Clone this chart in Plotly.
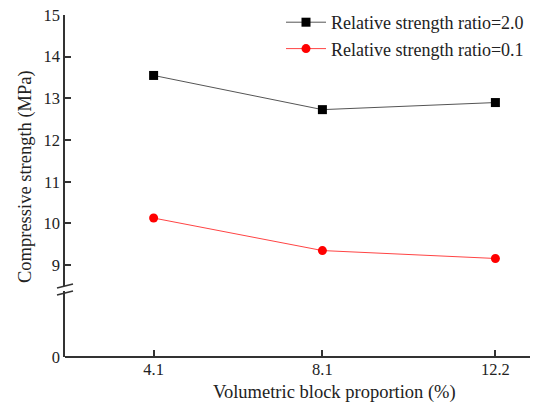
import plotly.graph_objects as go

x_vals = [4.1, 8.1, 12.2]
x_ticks = ["4.1", "8.1", "12.2"]
ratio_2_0 = [13.55, 12.73, 12.90]
ratio_0_1 = [10.13, 9.35, 9.16]
y_ticks_upper = [9, 10, 11, 12, 13, 14, 15]

W, H = 533, 403
ML, MR, MT, MB = 65, 3, 15, 46
PW, PH = W - ML - MR, H - MT - MB

def px_x(p):
    return (p - ML) / PW

def px_y(p):
    return (H - MB - p) / PH

FONT = "Liberation Serif, Times New Roman, serif"
AX = "#333333"

fig = go.Figure()
fig.add_trace(go.Scatter(
    x=x_vals, y=ratio_2_0, name="Relative strength ratio=2.0",
    mode="lines+markers", xaxis="x", yaxis="y2",
    line=dict(color="#555555", width=1),
    marker=dict(symbol="square", size=9, color="black"),
))
fig.add_trace(go.Scatter(
    x=x_vals, y=ratio_0_1, name="Relative strength ratio=0.1",
    mode="lines+markers", xaxis="x", yaxis="y2",
    line=dict(color="#ff4444", width=1),
    marker=dict(symbol="circle", size=9, color="#ff0000"),
))
# empty trace so the lower (broken) y segment is drawn
fig.add_trace(go.Scatter(x=[], y=[], xaxis="x", yaxis="y", showlegend=False,
                         hoverinfo="skip"))

common = dict(showline=True, linecolor=AX, linewidth=1.5, ticks="inside",
              ticklen=6, tickwidth=1.5, tickcolor=AX, showgrid=False,
              zeroline=False, tickfont=dict(family=FONT, size=16.5, color="#222"))

fig.update_layout(
    width=W, height=H,
    margin=dict(l=ML, r=MR, t=MT, b=MB),
    paper_bgcolor="white", plot_bgcolor="white",
    font=dict(family=FONT, size=16.5, color="#222"),
    xaxis=dict(range=[2.0, 13.02], tickvals=x_vals, ticktext=x_ticks,
               anchor="free", position=0, ticklabelstandoff=-3, **common),
    yaxis=dict(domain=[0, px_y(291)], range=[0, (357 - 291) / 41.67],
               tickvals=[0], ticktext=["0"], anchor="x", **common),
    yaxis2=dict(domain=[px_y(286), 1], range=[8.5, 15],
                tickvals=y_ticks_upper, anchor="x", **common),
    showlegend=True,
    legend=dict(x=px_x(281), y=px_y(4), xanchor="left", yanchor="top",
                bgcolor="rgba(0,0,0,0)", font=dict(family=FONT, size=18, color="#222"),
                tracegroupgap=0, itemwidth=40),
)

# axis break marks
for (y0, y1) in [(288, 284), (295, 291)]:
    fig.add_shape(type="line", xref="paper", yref="paper",
                  x0=px_x(57), x1=px_x(73), y0=px_y(y0), y1=px_y(y1),
                  line=dict(color=AX, width=1.5))

fig.add_annotation(text="Volumetric block proportion (%)", xref="paper", yref="paper",
                   x=px_x(334), y=px_y(393), xanchor="center", yanchor="middle",
                   showarrow=False, font=dict(family=FONT, size=18.5, color="#222"))
fig.add_annotation(text="Compressive strength (MPa)", xref="paper", yref="paper",
                   x=px_x(25), y=px_y(177), xanchor="center", yanchor="middle",
                   showarrow=False, textangle=-90,
                   font=dict(family=FONT, size=18.5, color="#222"))

fig.write_html("out.html")
